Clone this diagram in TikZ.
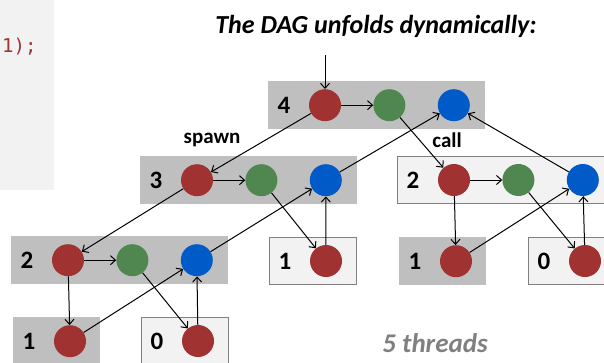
\documentclass[tikz,border=0pt]{standalone}
\usepackage{fontspec}
\setmainfont{Carlito}
\newfontfamily\codefont{DejaVu Sans Mono}
\usepackage{xcolor}
\usetikzlibrary{arrows.meta,positioning}

\definecolor{strandred}{RGB}{160,50,50}
\definecolor{strandgreen}{RGB}{80,135,80}
\definecolor{strandblue}{RGB}{0,90,200}
\definecolor{boxgray}{RGB}{191,191,191}
\definecolor{boxlight}{RGB}{242,242,242}
\definecolor{boxedge}{RGB}{128,128,128}

\begin{document}
\begin{tikzpicture}[x=1pt, y=-1pt, node distance=32pt, >={Straight Barb[length=5pt,width=9pt]}]
    \tikzstyle{running} = [rectangle, fill=boxgray, minimum height=48pt, inner sep=0pt, anchor=north west]
    \tikzstyle{done} = [rectangle, fill=boxlight, draw=boxedge, line width=1pt, minimum height=47pt, inner sep=0pt, anchor=north west]
    \tikzstyle{wide} = [minimum width=217pt]
    \tikzstyle{narrow} = [minimum width=87pt]
    \tikzstyle{num} = [font=\bfseries\fontsize{25}{25}\selectfont, inner sep=0pt]
    \tikzstyle{strand} = [circle, minimum size=32pt, inner sep=0pt]
    \tikzstyle{tag} = [font=\bfseries\fontsize{21}{21}\selectfont]
    \tikzstyle{arrow} = [->, line width=1pt]

    \useasboundingbox (0,0) rectangle (604,362);

    % code panel on the left
    \fill[boxlight] (0,0) rectangle (54,190);
    \node[anchor=west, text=strandred, font=\codefont\fontsize{19}{19}\selectfont, inner sep=0pt] (code) at (2,47) {1);};

    \node[font=\bfseries\itshape\fontsize{26}{30}\selectfont] (title) at (376,26) {The DAG unfolds dynamically:};

    % thread 4
    \node [running, wide] (t4) at (268,81) {};
    \node [num] at ([xshift=16pt]t4.west) {4};
    \node [strand, fill=strandred] (a4) at ([xshift=57pt]t4.west) {};
    \node [strand, fill=strandgreen, right=of a4] (b4) {};
    \node [strand, fill=strandblue, right=of b4] (c4) {};
    \coordinate (start) at (325,55);

    % thread 3
    \node [running, wide] (t3) at (140,156) {};
    \node [num] at ([xshift=16pt]t3.west) {3};
    \node [strand, fill=strandred] (a3) at ([xshift=57pt]t3.west) {};
    \node [strand, fill=strandgreen, right=of a3] (b3) {};
    \node [strand, fill=strandblue, right=of b3] (c3) {};

    % thread 2 (call)
    \node [done, wide] (t2r) at (397,156) {};
    \node [num] at ([xshift=16pt]t2r.west) {2};
    \node [strand, fill=strandred] (a2r) at ([xshift=57pt]t2r.west) {};
    \node [strand, fill=strandgreen, right=of a2r] (b2r) {};
    \node [strand, fill=strandblue, right=of b2r] (c2r) {};

    % thread 2 (spawn)
    \node [running, wide] (t2l) at (11,236) {};
    \node [num] at ([xshift=16pt]t2l.west) {2};
    \node [strand, fill=strandred] (a2l) at ([xshift=57pt]t2l.west) {};
    \node [strand, fill=strandgreen, right=of a2l] (b2l) {};
    \node [strand, fill=strandblue, right=of b2l] (c2l) {};

    % leaves
    \node [running, narrow] (t1l) at (13,317) {};
    \node [num] at ([xshift=16pt]t1l.west) {1};
    \node [strand, fill=strandred] (a1l) at ([xshift=57pt]t1l.west) {};

    \node [done, narrow] (t0l) at (141,317) {};
    \node [num] at ([xshift=16pt]t0l.west) {0};
    \node [strand, fill=strandred] (a0l) at ([xshift=57pt]t0l.west) {};

    \node [done, narrow] (t1m) at (269,237) {};
    \node [num] at ([xshift=16pt]t1m.west) {1};
    \node [strand, fill=strandred] (a1m) at ([xshift=57pt]t1m.west) {};

    \node [running, narrow] (t1r) at (399,237) {};
    \node [num] at ([xshift=16pt]t1r.west) {1};
    \node [strand, fill=strandred] (a1r) at ([xshift=57pt]t1r.west) {};

    \node [done, narrow] (t0r) at (528,237) {};
    \node [num] at ([xshift=16pt]t0r.west) {0};
    \node [strand, fill=strandred] (a0r) at ([xshift=57pt]t0r.west) {};

    \node[tag] (spawn) at (212,140) {spawn};
    \node[tag] (call) at (447,140) {call};
    \node[text=boxedge, font=\bfseries\itshape\fontsize{27}{30}\selectfont] (threads) at (435,343) {5 threads};

    \draw [arrow] (start) -- (a4);
    \draw [arrow] (a4) -- (b4);
    \draw [arrow] (a4) -- (a3);
    \draw [arrow] (b4) -- (a2r);
    \draw [arrow] (c3) -- (c4);
    \draw [arrow] (c2r) -- (c4);

    \draw [arrow] (a3) -- (b3);
    \draw [arrow] (a3) -- (a2l);
    \draw [arrow] (b3) -- (a1m);
    \draw [arrow] (a1m) -- (c3);
    \draw [arrow] (c2l) -- (c3);

    \draw [arrow] (a2l) -- (b2l);
    \draw [arrow] (a2l) -- (a1l);
    \draw [arrow] (b2l) -- (a0l);
    \draw [arrow] (a0l) -- (c2l);
    \draw [arrow] (a1l) -- (c2l);

    \draw [arrow] (a2r) -- (b2r);
    \draw [arrow] (a2r) -- (a1r);
    \draw [arrow] (b2r) -- (a0r);
    \draw [arrow] (a0r) -- (c2r);
    \draw [arrow] (a1r) -- (c2r);

\end{tikzpicture}
\end{document}
